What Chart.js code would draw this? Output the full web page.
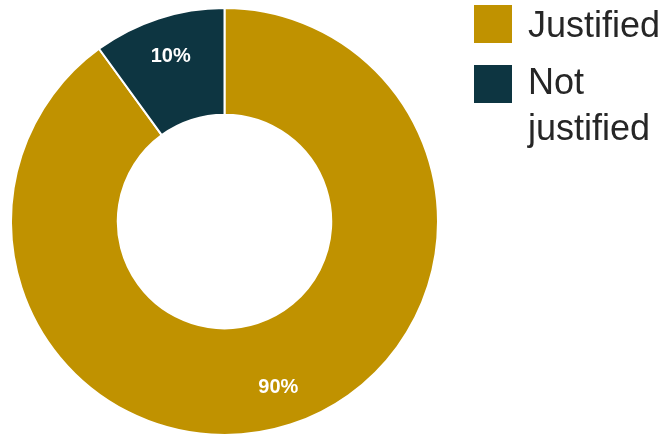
<!DOCTYPE html>
<html>
<head>
<meta charset="utf-8">
<script src="https://cdn.jsdelivr.net/npm/chart.js@4/dist/chart.umd.min.js"></script>
<style>
  html, body { margin: 0; padding: 0; background: #ffffff; }
  #wrap { width: 667px; height: 436px; }
</style>
</head>
<body>
<div id="wrap"><canvas id="c" width="667" height="436"></canvas></div>
<script>
const categories = ['Justified', 'Not justified'];
const values = [90, 10];
const colors = ['#C09200', '#0D3541'];
const legendLines = [['Justified'], ['Not', 'justified']];

const total = values.reduce((a, b) => a + b, 0);

const sliceLabels = {
  id: 'sliceLabels',
  afterDatasetsDraw(chart) {
    const ctx = chart.ctx;
    const meta = chart.getDatasetMeta(0);
    ctx.save();
    ctx.fillStyle = '#ffffff';
    ctx.font = 'bold 20px "Liberation Sans", Arial, sans-serif';
    ctx.textAlign = 'center';
    ctx.textBaseline = 'middle';
    meta.data.forEach((arc, i) => {
      const p = arc.getProps(['x', 'y', 'startAngle', 'endAngle', 'innerRadius', 'outerRadius'], true);
      const mid = (p.startAngle + p.endAngle) / 2;
      const r = p.innerRadius + 0.63 * (p.outerRadius - p.innerRadius);
      const txt = Math.round(values[i] / total * 100) + '%';
      ctx.fillText(txt, p.x + Math.cos(mid) * r, p.y + Math.sin(mid) * r);
    });
    ctx.restore();
  }
};

const sideLegend = {
  id: 'sideLegend',
  afterDraw(chart) {
    const ctx = chart.ctx;
    ctx.save();
    const boxX = 474, boxSize = 38;
    const boxTops = [5, 65];
    const textX = 528;
    const baselines = [[37], [94, 140]];
    ctx.font = '36px "Liberation Sans", Arial, sans-serif';
    ctx.textAlign = 'left';
    ctx.textBaseline = 'alphabetic';
    categories.forEach((c, i) => {
      ctx.fillStyle = colors[i];
      ctx.fillRect(boxX, boxTops[i], boxSize, boxSize);
      ctx.fillStyle = '#262626';
      legendLines[i].forEach((line, j) => {
        ctx.fillText(line, textX, baselines[i][j]);
      });
    });
    ctx.restore();
  }
};

new Chart(document.getElementById('c'), {
  type: 'doughnut',
  data: {
    labels: categories,
    datasets: [{
      data: values,
      backgroundColor: colors,
      borderColor: '#ffffff',
      borderWidth: 2
    }]
  },
  options: {
    responsive: false,
    animation: false,
    cutout: '50%',
    layout: { padding: { left: 10, right: 228, top: 7, bottom: 0 } },
    plugins: {
      legend: { display: false },
      tooltip: { enabled: false }
    }
  },
  plugins: [sliceLabels, sideLegend]
});
</script>
</body>
</html>
